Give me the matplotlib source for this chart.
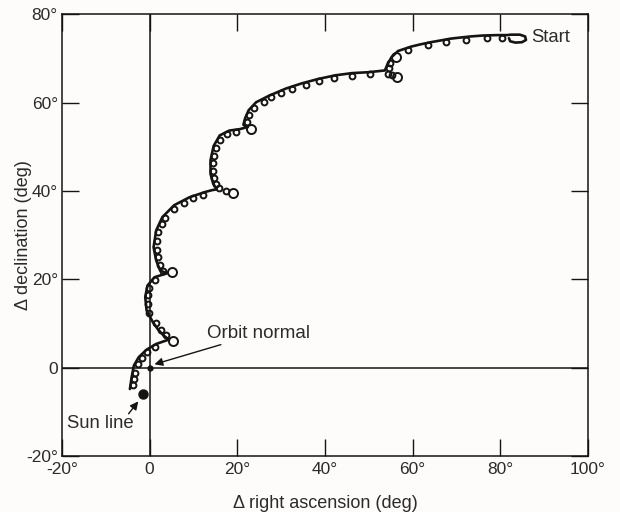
import matplotlib
matplotlib.use("Agg")
import matplotlib.pyplot as plt

plt.rcParams["font.family"] = ["Liberation Sans", "DejaVu Sans"]

# ── data (degrees) ───────────────────────────────────────────
# main spin-axis track, from "Start" down to the end near the sun line
path_x = [82.0, 82.3, 83.5, 85.0, 85.9, 85.7, 84.5, 82.5, 81.5, 79.4, 76.0, 73.3,
          70.5, 68.7, 66.5, 64.2, 61.8, 59.7, 56.7, 55.2, 54.2, 53.7, 51.8, 49.9,
          46.2, 42.4, 38.6, 34.8, 31.1, 27.3, 24.3, 22.6, 21.8, 21.4, 22.4, 20.5,
          18.2, 16.0, 14.6, 13.9, 13.9, 14.5, 15.3, 14.2, 12.7, 9.1, 5.6, 2.9, 1.5,
          0.9, 1.5, 2.4, 4.0, 1.1, -0.5, -1.0, -0.7, 0.7, 1.9, 3.2, 4.4, 1.5, -0.7,
          -2.5, -3.6, -4.1, -4.5]
path_y = [74.6, 73.9, 73.6, 73.7, 74.2, 75.0, 75.4, 75.4, 75.3, 75.3, 75.2, 75.0,
          74.7, 74.5, 74.1, 73.7, 73.2, 72.7, 71.7, 70.3, 68.5, 67.3, 67.1, 66.9,
          66.7, 66.2, 65.4, 64.4, 63.2, 61.6, 60.1, 58.3, 56.5, 55.0, 54.5, 54.0,
          53.7, 52.6, 50.2, 47.0, 43.9, 41.7, 40.4, 40.2, 39.8, 38.6, 36.8, 34.1,
          31.1, 27.3, 24.3, 22.0, 21.4, 20.5, 18.6, 16.0, 13.0, 10.4, 8.7, 7.3, 6.4,
          5.4, 4.1, 2.4, 0.5, -2.1, -4.8]

# small nutation loops along the track
loop_x = [59.0, 63.5, 67.6, 72.1, 77.1, 80.5,
          54.95, 54.6, 54.3, 55.3,
          50.3, 46.2, 42.0, 38.6, 35.6, 32.6, 29.9, 27.7, 26.0, 23.8, 22.7, 22.15,
          19.8, 17.75, 16.1,
          15.05, 14.65, 14.45, 14.45, 14.65, 15.05, 15.9, 17.4, 12.2,
          10.0, 7.95, 5.5, 3.45, 2.75, 2.0, 1.7, 1.6, 1.9, 2.35, 2.95,
          1.22, -0.03, -0.37, -0.3, -0.05, 1.45, 2.55, 3.7,
          1.3, -0.5, -1.85, -2.75, -3.35, -3.62, -3.85]
loop_y = [71.9, 73.0, 73.7, 74.3, 74.7, 74.75,
          68.9, 67.8, 66.6, 66.2,
          66.4, 66.15, 65.55, 64.85, 64.05, 63.1, 62.1, 61.2, 60.2, 58.8, 57.2, 55.65,
          53.35, 52.85, 51.6,
          49.8, 48.0, 46.3, 44.6, 43.0, 41.6, 40.6, 40.0, 39.1,
          38.35, 37.4, 35.9, 34.0, 32.5, 30.7, 28.8, 26.6, 25.0, 23.3, 21.8,
          19.8, 18.1, 16.4, 14.5, 12.4, 10.1, 8.6, 7.4,
          4.65, 3.5, 2.3, 0.95, -1.1, -2.6, -4.0]

# larger loops where the track turns back
big_loop_x = [56.3, 56.4, 23.1, 19.0, 5.0, 5.35]
big_loop_y = [70.3, 65.8, 54.1, 39.5, 21.6, 6.0]

orbit_normal = (0.0, 0.0)
sun_line = (-1.4, -5.9)

x_ticks = [-20, 0, 20, 40, 60, 80, 100]
x_labels = ["-20°", "0", "20°", "40°", "60°", "80°", "100°"]
y_ticks = [-20, 0, 20, 40, 60, 80]
y_labels = ["-20°", "0", "20°", "40°", "60°", "80°"]

INK = "#141414"
TXT = "#2b2b2b"

fig = plt.figure(figsize=(6.2, 5.12), dpi=100, facecolor="#fdfcfa")
ax = fig.add_axes([0.1, 0.109, 0.848, 0.863])
ax.set_facecolor("#fdfcfa")

# reference lines through the origin
ax.axhline(0, color=INK, linewidth=1.1, zorder=1)
ax.axvline(0, color=INK, linewidth=1.1, zorder=1)

# track + loops
ax.plot(path_x, path_y, color=INK, linewidth=1.9, solid_joinstyle="round",
        solid_capstyle="round", zorder=3)
ax.plot(loop_x, loop_y, linestyle="none", marker="o", markersize=4.2,
        markerfacecolor="none", markeredgecolor=INK, markeredgewidth=1.4, zorder=3)
ax.plot(big_loop_x, big_loop_y, linestyle="none", marker="o", markersize=6.5,
        markerfacecolor="none", markeredgecolor=INK, markeredgewidth=1.4, zorder=3)

# orbit normal and sun line points
ax.plot(*orbit_normal, marker="o", markersize=3.5, color=INK, zorder=4)
ax.plot(*sun_line, marker="o", markersize=6.5, color=INK, zorder=4)

arrow = dict(arrowstyle="-|>", color=INK, lw=1.0, mutation_scale=12,
             shrinkA=0, shrinkB=0)
ax.annotate("Orbit normal", xy=(1.1, 0.8), xytext=(13.2, 7.8), fontsize=13.5,
            color=TXT, va="center", ha="left", arrowprops=arrow)
ax.annotate("", xy=(-2.6, -7.6), xytext=(-4.8, -10.4), arrowprops=arrow)
ax.text(-18.9, -12.6, "Sun line", fontsize=13.3, color=TXT, va="center", ha="left")
ax.text(87.1, 74.8, "Start", fontsize=13.3, color=TXT, va="center", ha="left")

ax.set_xlim(-20, 100)
ax.set_ylim(-20, 80)
ax.set_xticks(x_ticks)
ax.set_xticklabels(x_labels)
ax.set_yticks(y_ticks)
ax.set_yticklabels(y_labels)
ax.tick_params(direction="in", length=12, width=1.0, color=INK, labelsize=12.5,
               labelcolor=TXT, top=True, right=True, pad=4)
ax.tick_params(axis="y", pad=3)
for s in ax.spines.values():
    s.set_linewidth(1.1)
    s.set_color(INK)

ax.set_xlabel("Δ right ascension (deg)", fontsize=13, color=TXT)
ax.set_ylabel("Δ declination (deg)", fontsize=13, color=TXT)
ax.xaxis.set_label_coords(0.5, -0.088)
ax.yaxis.set_label_coords(-0.057, 0.5)

fig.savefig("out.png", dpi=100, facecolor=fig.get_facecolor())
